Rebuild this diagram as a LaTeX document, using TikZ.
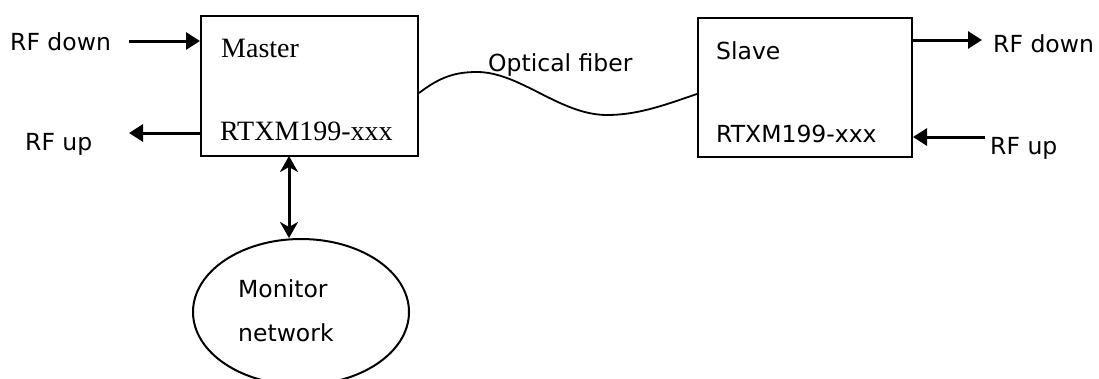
\documentclass[tikz,border=0pt]{standalone}
\usepackage{fontspec}
\setmainfont{DejaVu Sans}
\newfontfamily\serifx{Liberation Serif}
\usetikzlibrary{arrows.meta,shapes.geometric}
\tikzset{
  box/.style={draw, line width=2pt, inner sep=0pt, anchor=north west},
  lbl/.style={anchor=base west, inner sep=0pt, font=\fontsize{23.5}{28}\selectfont},
  slbl/.style={anchor=base west, inner sep=0pt, font=\serifx\fontsize{28}{32}\selectfont},
  arr/.style={line width=3pt, -{Triangle[length=14pt,width=17pt]}},
  darr/.style={line width=3pt, {Stealth[length=16pt,width=18pt,inset=5pt]}-{Stealth[length=16pt,width=18pt,inset=5pt]}},
  fiber/.style={line width=1.8pt}
}
\begin{document}
\begin{tikzpicture}[x=1pt,y=-1pt]
\useasboundingbox (0,0) rectangle (1099,378);
% boxes
\node[box, minimum width=217pt, minimum height=140pt] (master) at (200,14.5) {};
\node[box, minimum width=214pt, minimum height=139pt] (slave) at (697,17) {};
% ellipse (clipped at bottom)
\begin{scope}
\clip (0,0) rectangle (1099,378);
\node[draw, ellipse, line width=2pt, minimum width=216pt, minimum height=146pt, inner sep=0pt] (mon) at (301,312) {};
\end{scope}
% texts
\node[slbl] (tmaster) at (221,57) {Master};
\node[slbl] (tmrtx) at (220,140) {RTXM199-xxx};
\node[lbl] (tslave) at (716,59.5) {Slave};
\node[lbl] (tsrtx) at (716,142.5) {RTXM199-xxx};
\node[lbl] (mdown) at (10,50) {RF down};
\node[lbl] (mup) at (25,150) {RF up};
\node[lbl] (sdown) at (993,52) {RF down};
\node[lbl] (sup) at (990,154) {RF up};
\node[lbl] (tfiber) at (488,71) {Optical fiber};
\node[lbl] (tmon1) at (238,297) {Monitor};
\node[lbl] (tmon2) at (238,341) {network};
% arrow endpoints
\coordinate (mdin) at (129,41);
\coordinate (mupout) at (129,133);
\coordinate (sdownout) at (982,40);
\coordinate (supin) at (985,137);
\coordinate (mbot) at (289,156);
\coordinate (montop) at (289,238);
% connectors
\draw[arr] (mdin) -- (mdin -| master.west);
\draw[arr] (mupout -| master.west) -- (mupout);
\draw[arr] (sdownout -| slave.east) -- (sdownout);
\draw[arr] (supin) -- (supin -| slave.east);
\draw[darr] (mbot) -- (montop);
% optical fiber
\coordinate (f0) at (master.east |- 0,93);
\coordinate (f3) at (slave.west |- 0,94);
\draw[fiber] (f0) .. controls (440,77) and (455,72) .. (477,72)
  .. controls (520,72) and (560,115) .. (607,115)
  .. controls (640,115) and (670,103) .. (f3);
\end{tikzpicture}
\end{document}
